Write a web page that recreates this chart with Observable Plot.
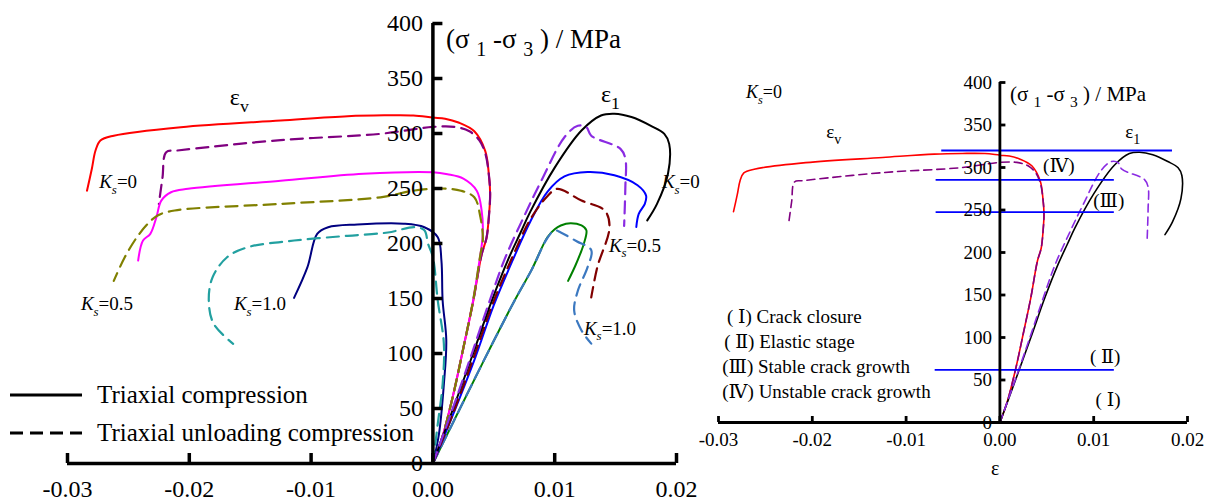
<!DOCTYPE html>
<html><head><meta charset="utf-8">
<script src="https://cdn.jsdelivr.net/npm/d3@7"></script>
<script src="https://cdn.jsdelivr.net/npm/@observablehq/plot@0.6"></script>
<style>
html,body{margin:0;padding:0;background:#fff;}
#wrap{position:relative;width:1215px;height:503px;display:flex;font-family:"Liberation Serif","DejaVu Serif","Times New Roman",serif;overflow:hidden;}
#wrap > div{position:relative;flex:none;}
</style></head>
<body><div id="wrap"><div id="left" style="width:700px;height:503px"></div><div id="right" style="width:515px;height:503px"></div></div>
<script>
// ---------- data: [strain, deviatoric stress MPa] ----------
// Ks = 0
const ks0_tc_ev = [[0,0],[0.0008,25],[0.0017,64],[0.0025,105],[0.0033,147],[0.0040,190],[0.0044,205],[0.0046,225],[0.0047,245],[0.0046,262],[0.0043,284],[0.0034,302],[0.0021,310],[0.0010,313.5],[0,314.5],[-0.0016,316.4],[-0.0040,316.5],[-0.0070,315.7],[-0.0125,311.8],[-0.0207,305.7],[-0.0262,298],[-0.0273,293.6],[-0.0277,284.5],[-0.0280,268],[-0.0284,248]];
const ks0_tc_e1 = [[0,0],[0.0015,45],[0.0033,100],[0.0048,147],[0.0062,186],[0.0072,210],[0.0080,229],[0.0100,269],[0.0122,302.7],[0.0138,316.4],[0.0149,318],[0.0163,315],[0.0179,307],[0.0190,299.7],[0.0194,290.6],[0.0193,263.4],[0.0184,236],[0.0176,221]];
const ks0_tu_ev = [[0,0],[0.0008,25],[0.0017,64],[0.0025,105],[0.0033,147],[0.0040,190],[0.0044,205],[0.0046,225],[0.0047,245],[0.0046,262],[0.0043,282],[0.0038,294],[0.0030,302],[0.0018,306],[0,306],[-0.0043,299.7],[-0.0125,294],[-0.0210,284.5],[-0.0219,283],[-0.0222,260],[-0.0225,236]];
const ks0_tu_e1 = [[0,0],[0.0015,46],[0.0032,100],[0.0046,146],[0.0059,186],[0.0075,225],[0.0089,257],[0.0108,296.6],[0.0119,307],[0.0126,305.7],[0.0130,298],[0.0154,286],[0.0158,277],[0.0158,251],[0.0157,216]];
// Ks = 0.5
const ks05_tc_ev = [[0,0],[0.0008,25],[0.0017,64],[0.0025,105],[0.0033,148],[0.0039,190],[0.0041,209],[0.0040,230],[0.0036,248],[0.0025,259],[0.0012,263],[0,264.8],[-0.0057,263.4],[-0.0125,257],[-0.0201,249.7],[-0.0215,246.6],[-0.0223,239],[-0.0227,224],[-0.0232,208.8],[-0.0238,202.7],[-0.0242,184.5]];
const ks05_tc_e1 = [[0,0],[0.0016,43],[0.0035,97],[0.0050,144],[0.0066,186],[0.0080,220],[0.0094,247],[0.0108,261],[0.0127,265],[0.0149,262],[0.0168,253],[0.0175,243.6],[0.0174,236],[0.0169,227],[0.0167,215]];
const ks05_tu_ev = [[0,0],[0.0008,25],[0.0017,64],[0.0025,105],[0.0033,148],[0.0039,190],[0.0041,203],[0.0039,224],[0.0034,242],[0.0023,248],[0.0007,250],[-0.0016,248],[-0.0043,242],[-0.0125,236],[-0.0212,230],[-0.0226,225.5],[-0.0234,218],[-0.0243,205.7],[-0.0253,187.5],[-0.0262,166]];
const ks05_tu_e1 = [[0,0],[0.0016,44],[0.0034,98],[0.0049,145],[0.0065,187],[0.0080,222],[0.0094,243],[0.0102,249.7],[0.0122,239],[0.0141,230],[0.0145,215],[0.0135,178.5],[0.0130,151]];
// Ks = 1.0
const ks10_tc_ev = [[0,0],[0.0005,27],[0.0009,72],[0.0011,112],[0.0008,148],[0.0007,184.5],[0.0004,205.7],[-0.0007,214.8],[-0.0024,218],[-0.0062,217.3],[-0.0086,214.8],[-0.0095,208.8],[-0.0103,178.5],[-0.0114,150.6]];
const ks10_tc_e1 = [[0,0],[0.0020,45],[0.0042,94],[0.0067,148],[0.0081,176],[0.0094,205.7],[0.0100,213],[0.0105,216.4],[0.0113,218.5],[0.0122,216.4],[0.0126,212],[0.0124,200],[0.0122,193.6],[0.0117,180],[0.0111,166]];
const ks10_tu_ev = [[0,0],[0.0004,36],[0.0008,72.5],[0.0009,108.8],[0.0004,148],[0,187.5],[-0.0004,199.7],[-0.0007,212],[-0.0015,214.8],[-0.0037,210],[-0.0070,207],[-0.0114,202.7],[-0.0152,196.6],[-0.0169,187.5],[-0.0181,169],[-0.0184,148],[-0.0180,127],[-0.0164,108.8]];
const ks10_tu_e1 = [[0,0],[0.0020,45],[0.0042,94],[0.0067,148],[0.0081,176],[0.0094,205],[0.0100,212],[0.0105,210],[0.0118,202],[0.0130,194],[0.0127,178.5],[0.0119,157],[0.0116,139],[0.0122,121],[0.0130,109]];

// stage thresholds (right panel, Ks = 0)
const stageStress = [62, 247.4, 285.5, 320];
const stageFrom   = [-0.0069, -0.0068, -0.0068, -0.0062];
const stageTo     = [0.0122, 0.0122, 0.0122, 0.0184];

// ticks
const xTicks = [-0.03, -0.02, -0.01, 0, 0.01, 0.02];
const yTicks = [0, 50, 100, 150, 200, 250, 300, 350, 400];
const X_DOMAIN = [-0.03, 0.02];
const Y_DOMAIN = [0, 400];

// legend labels
const legendLabels = ["Triaxial compression", "Triaxial unloading compression"];
const stageLabels = ["( Ⅰ) Crack closure", "( Ⅱ) Elastic stage", "(Ⅲ) Stable crack growth", "(Ⅳ) Unstable crack growth"];

// ---------- series styling ----------
const seriesAll = [
  {data: ks0_tc_ev,  color: "#ff0000", dashed: false},
  {data: ks0_tu_ev,  color: "#800080", dashed: true},
  {data: ks05_tc_ev, color: "#ff00ff", dashed: false},
  {data: ks05_tu_ev, color: "#808000", dashed: true},
  {data: ks10_tc_ev, color: "#000080", dashed: false},
  {data: ks10_tu_ev, color: "#22a0a0", dashed: true},
  {data: ks10_tc_e1, color: "#008000", dashed: false},
  {data: ks10_tu_e1, color: "#3b78c0", dashed: true},
  {data: ks05_tc_e1, color: "#0000ff", dashed: false},
  {data: ks05_tu_e1, color: "#800000", dashed: true},
  {data: ks0_tc_e1,  color: "#000000", dashed: false},
  {data: ks0_tu_e1,  color: "#8a2be2", dashed: true}
];
const seriesKs0 = [
  {data: ks0_tc_ev,  color: "#ff0000", dashed: false},
  {data: ks0_tu_ev,  color: "#800080", dashed: true},
  {data: ks0_tc_e1,  color: "#000000", dashed: false},
  {data: ks0_tu_e1,  color: "#8a2be2", dashed: true}
];

// annotations (text, x, y in data units, font size)
const leftNotes = [
  {text: "ε_v_", x: -0.01667, y: 333, size: 24},
  {text: "ε_1_", x: 0.0138, y: 336, size: 24},
  {text: "*K*^s^=0", x: -0.0274, y: 256, size: 19},
  {text: "*K*^s^=0.5", x: -0.0289, y: 145, size: 19},
  {text: "*K*^s^=1.0", x: -0.01634, y: 145, size: 19},
  {text: "*K*^s^=0", x: 0.0188, y: 256, size: 19},
  {text: "*K*^s^=0.5", x: 0.01445, y: 198, size: 19},
  {text: "*K*^s^=1.0", x: 0.0124, y: 122.7, size: 19},
  {text: "(σ _1_ -σ _3_ ) / MPa", x: 0.00107, y: 385.5, size: 27}
];
const rightNotes = [
  {text: "*K*^s^=0", x: -0.02706, y: 388, size: 18},
  {text: "ε_v_", x: -0.0185, y: 342, size: 19},
  {text: "ε_1_", x: 0.01337, y: 342, size: 19},
  {text: "(σ _1_ -σ _3_ ) / MPa", x: 0.00107, y: 386, size: 21},
  {text: "(Ⅳ)", x: 0.0046, y: 302, size: 19},
  {text: "(Ⅲ)", x: 0.00995, y: 261, size: 19},
  {text: "( Ⅱ)", x: 0.0096, y: 77.6, size: 19},
  {text: "( Ⅰ)", x: 0.0102, y: 26, size: 19},
  {text: stageLabels[0], x: -0.0291, y: 124.7, size: 19},
  {text: stageLabels[1], x: -0.0294, y: 95.3, size: 19},
  {text: stageLabels[2], x: -0.0296, y: 65.9, size: 19},
  {text: stageLabels[3], x: -0.0296, y: 36.5, size: 19}
];
const rightAxisLabel = [{text: "ε", x: -0.0005, y: -54, size: 20}];

// ---------- rich text (sub/italic) ----------
function richify(svg, subScale){
  svg.querySelectorAll("text").forEach(t => {
    const s = t.textContent;
    if (!/[_*^]/.test(s)) return;
    const holder = t.closest("[font-size]");
    const fs = parseFloat(holder ? holder.getAttribute("font-size") : 16);
    while (t.firstChild) t.removeChild(t.firstChild);
    const parts = s.split(/(\*[^*]*\*|_[^_]*_|\^[^^]*\^)/).filter(p => p !== "");
    let shift = 0;
    for (const p of parts) {
      const ts = document.createElementNS("http://www.w3.org/2000/svg", "tspan");
      let target = 0, txt = p;
      if (p[0] === "*") { txt = p.slice(1, -1); ts.setAttribute("font-style", "italic"); }
      else if (p[0] === "_" || p[0] === "^") {
        txt = p.slice(1, -1); target = 0.3 * fs;
        ts.setAttribute("font-size", (p[0] === "_" ? 0.74 : 0.68) * fs);
        if (p[0] === "^") ts.setAttribute("font-style", "italic");
      }
      if (target !== shift) { ts.setAttribute("dy", target - shift); shift = target; }
      ts.textContent = txt;
      t.appendChild(ts);
    }
  });
}

// ---------- panel builder ----------
function panel(cfg){
  const iw = cfg.width - cfg.ml - cfg.mr, ih = cfg.height - cfg.mt - cfg.mb;
  const xPer = iw / (X_DOMAIN[1] - X_DOMAIN[0]);
  const yPer = ih / (Y_DOMAIN[1] - Y_DOMAIN[0]);
  const tx = cfg.tick / xPer, ty = cfg.tick / yPer;
  const marks = [];
  for (const s of cfg.series) {
    const o = {x: d => d[0], y: d => d[1], stroke: s.color, strokeWidth: cfg.lw, curve: "catmull-rom"};
    if (s.dashed) { o.strokeDasharray = cfg.dash; o.strokeWidth = cfg.lwd; }
    marks.push(Plot.line(s.data, o));
  }
  if (cfg.extra) marks.push(...cfg.extra);
  // axes
  marks.push(Plot.ruleX([0], {y1: Y_DOMAIN[0], y2: Y_DOMAIN[1], stroke: "#000", strokeWidth: cfg.aw}));
  marks.push(Plot.ruleY([0], {x1: X_DOMAIN[0], x2: X_DOMAIN[1], stroke: "#000", strokeWidth: cfg.aw}));
  marks.push(Plot.ruleY(yTicks.filter(d => d > 0), {y: d => d, x1: 0, x2: tx, stroke: "#000", strokeWidth: cfg.aw}));
  marks.push(Plot.ruleX(xTicks, {x: d => d, y1: 0, y2: ty, stroke: "#000", strokeWidth: cfg.aw}));
  marks.push(Plot.text(yTicks, {x: 0, y: d => d, dx: -cfg.ylabGap, text: d => String(d), textAnchor: "end", fontSize: cfg.tf, fill: "#000"}));
  marks.push(Plot.text(xTicks, {x: d => d, y: 0, dy: cfg.xlabGap, text: d => d.toFixed(2), textAnchor: "middle", fontSize: cfg.tf, fill: "#000"}));
  marks.push(Plot.text(cfg.notes, {x: "x", y: "y", text: "text", fontSize: "size", textAnchor: "start", fill: "#000"}));
  if (cfg.centerNotes) marks.push(Plot.text(cfg.centerNotes, {x: "x", y: "y", text: "text", fontSize: "size", textAnchor: "middle", fill: "#000"}));
  const svg = Plot.plot({
    width: cfg.width, height: cfg.height,
    marginLeft: cfg.ml, marginRight: cfg.mr, marginTop: cfg.mt, marginBottom: cfg.mb,
    x: {domain: X_DOMAIN, axis: null},
    y: {domain: Y_DOMAIN, axis: null},
    style: {fontFamily: '"Liberation Serif","DejaVu Serif","Times New Roman",serif', background: "#fff", overflow: "visible"},
    marks
  });
  richify(svg);
  return svg;
}

const leftSvg = panel({
  width: 700, height: 503, ml: 67, mr: 24, mt: 23, mb: 40,
  series: seriesAll, lw: 2, lwd: 2.2, dash: "12,7", aw: 3.5, tick: 10, tf: 24,
  ylabGap: 10, xlabGap: 26, notes: leftNotes
});
document.getElementById("left").appendChild(leftSvg);

const stages = stageStress.map((y, i) => ({y, x1: stageFrom[i], x2: stageTo[i]}));
const rightSvg = panel({
  width: 515, height: 503, ml: 18, mr: 28, mt: 82, mb: 81,
  series: seriesKs0, lw: 1.6, lwd: 1.6, dash: "8,5", aw: 2.8, tick: 6, tf: 19,
  ylabGap: 8, xlabGap: 17, notes: rightNotes, centerNotes: rightAxisLabel,
  extra: [Plot.ruleY(stages, {y: "y", x1: "x1", x2: "x2", stroke: "#0000ff", strokeWidth: 1.8})]
});
document.getElementById("right").appendChild(rightSvg);

// ---------- legend (left panel) ----------
const leg = d3.select("#left").append("svg")
  .attr("width", 430).attr("height", 80)
  .style("position", "absolute").style("left", "0px").style("top", "375px")
  .style("font-family", '"Liberation Serif","Times New Roman",serif');
legendLabels.forEach((lab, i) => {
  const yy = 20 + i * 38;
  leg.append("line").attr("x1", 10).attr("x2", 82).attr("y1", yy).attr("y2", yy)
    .attr("stroke", "#000").attr("stroke-width", 3)
    .attr("stroke-dasharray", i === 1 ? "13,7" : null);
  leg.append("text").attr("x", 97).attr("y", yy + 8).attr("font-size", 25).attr("fill", "#000").text(lab);
});
</script>
</body></html>
